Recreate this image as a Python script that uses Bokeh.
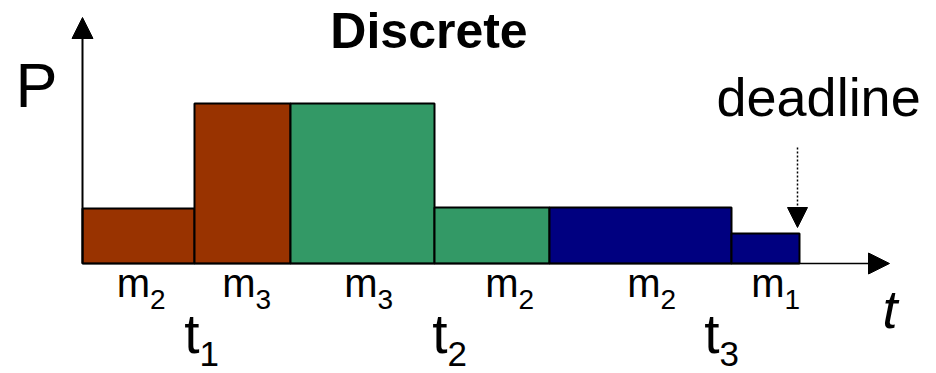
from bokeh.plotting import figure
from bokeh.models import Range1d, Arrow, NormalHead, ColumnDataSource, Label
from bokeh.core.properties import value
from bokeh.embed import file_html
from bokeh.resources import INLINE
import numpy as np

# ---- data ----
modes = ["m2", "m3", "m3", "m2", "m2", "m1"]
mode_main = ["m", "m", "m", "m", "m", "m"]
mode_sub = ["2", "3", "3", "2", "2", "1"]
durations = [11.2, 9.6, 14.4, 11.5, 18.2, 6.8]
powers = [5.5, 16.0, 16.0, 5.6, 5.6, 3.0]
colors = ["#993300", "#993300", "#339966", "#339966", "#000080", "#000080"]
label_x = [6.75, 17.3, 29.5, 43.6, 57.8, 70.2]
t_names = ["1", "2", "3"]
t_x = [11.7, 36.5, 63.7]
t_base = [-9.2, -9.2, -9.25]

FONT = "Liberation Sans"
SHIFT = 0.04  # baseline correction (data units per px of font size)

starts = np.concatenate([[0.0], np.cumsum(durations)[:-1]])
ends = np.cumsum(durations)
deadline = float(ends[-1])

src = ColumnDataSource(dict(left=starts, right=ends, top=powers,
                            bottom=[0.0] * len(powers), color=colors))

W, H = 936, 373
p = figure(width=W, height=H, output_backend="svg", toolbar_location=None,
           x_range=Range1d(-8.2, -8.2 + W / 10.0),
           y_range=Range1d(26.3 - H / 10.0, 26.3),
           min_border=0, min_border_left=0, min_border_right=0,
           min_border_top=0, min_border_bottom=0)
p.axis.visible = False
p.grid.visible = False
p.outline_line_color = None
p.background_fill_color = "white"
p.border_fill_color = "white"

p.quad(left="left", right="right", top="top", bottom="bottom", source=src,
       fill_color="color", line_color="black", line_width=2)

# axes with arrow heads
y_top = 24.6
x_end = 80.7
p.add_layout(Arrow(end=NormalHead(size=21, fill_color="black", line_color="black", line_width=1),
                   x_start=0, y_start=0, x_end=0, y_end=y_top,
                   line_color="black", line_width=2))
p.add_layout(Arrow(end=NormalHead(size=21, fill_color="black", line_color="black", line_width=1),
                   x_start=0, y_start=0, x_end=x_end, y_end=0,
                   line_color="black", line_width=1.5))

# deadline arrow
p.add_layout(Arrow(end=NormalHead(size=20, fill_color="black", line_color="black", line_width=1),
                   x_start=deadline - 0.2, y_start=11.6, x_end=deadline - 0.2, y_end=3.6,
                   line_color="black", line_width=1.5, line_dash="2 2"))

def by(y, fs):
    return y + SHIFT * fs

# mode labels
p.text(x=label_x, y=[by(-3.5, 40)] * 6, text=mode_main, text_font=value(FONT),
       text_font_size="40px", text_align="right", text_baseline="alphabetic",
       text_color="black")
p.text(x=label_x, y=[by(-4.7, 28)] * 6, text=mode_sub, text_font=value(FONT),
       text_font_size="28px", text_align="left", text_baseline="alphabetic",
       text_color="black")

# time labels
p.text(x=t_x, y=[by(b, 55) for b in t_base], text=["t"] * 3, text_font=value(FONT),
       text_font_size="55px", text_align="right", text_baseline="alphabetic",
       text_color="black")
p.text(x=t_x, y=[by(b - 1.2, 35) for b in t_base], text=t_names, text_font=value(FONT),
       text_font_size="35px", text_align="left", text_baseline="alphabetic",
       text_color="black")

# titles and axis labels
p.add_layout(Label(x=34.65, y=by(21.3, 50), text="Discrete", text_font=FONT,
                   text_font_size="50px", text_font_style="bold", text_color="black",
                   text_align="center", text_baseline="alphabetic"))
p.add_layout(Label(x=-6.7, y=by(15.3, 63), text="P", text_font=FONT,
                   text_font_size="63px", text_align="left", text_color="black",
                   text_baseline="alphabetic"))
p.add_layout(Label(x=63.4, y=by(14.5, 54), text="deadline", text_font=FONT,
                   text_font_size="54px", text_align="left", text_color="black",
                   text_baseline="alphabetic"))
p.add_layout(Label(x=80.0, y=by(-6.7, 54), text="t", text_font=FONT,
                   text_font_size="54px", text_font_style="italic", text_color="black",
                   text_align="left", text_baseline="alphabetic"))

open("out.html", "w").write(file_html(p, INLINE))
